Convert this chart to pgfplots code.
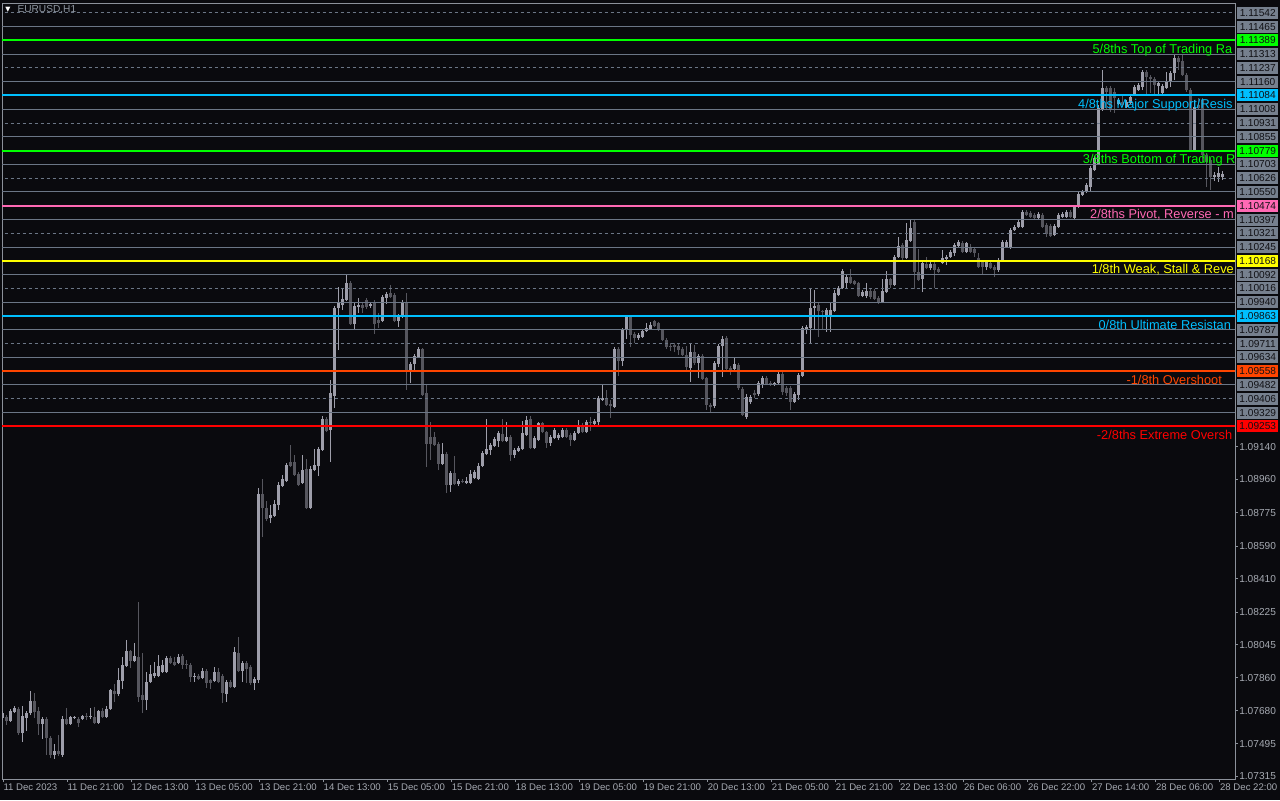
\documentclass[border=0pt]{standalone}
\usepackage{pgfplots}
\usepackage{pgfplotstable}
\pgfplotsset{compat=1.18}
\usepackage{fontspec}
\setmainfont{Liberation Sans}
\newfontfamily\dejavu{DejaVu Sans}

\definecolor{bg}{HTML}{0A0A0E}
\definecolor{frame}{HTML}{8C919A}
\definecolor{gridgray}{HTML}{6B7686}
\definecolor{bull}{HTML}{9E9EAA}
\definecolor{bear}{HTML}{56565E}
\definecolor{boxgray}{HTML}{76808E}
\definecolor{boxtext}{HTML}{101014}
\definecolor{ticktext}{HTML}{A6AAB2}
\definecolor{titlegray}{HTML}{8E96A0}
\definecolor{mlime}{HTML}{00FF00}
\definecolor{msky}{HTML}{00BFFF}
\definecolor{mpink}{HTML}{FF69B4}
\definecolor{myellow}{HTML}{FFFF00}
\definecolor{morange}{HTML}{FF4500}
\definecolor{mred}{HTML}{FF0000}

\pgfplotstableread{
k O H L C
0 1.07639 1.07677 1.07628 1.07666
1 1.07644 1.07655 1.07600 1.07622
2 1.07622 1.07688 1.07617 1.07677
3 1.07672 1.07705 1.07666 1.07694
4 1.07688 1.07699 1.07545 1.07556
5 1.07556 1.07705 1.07506 1.07650
6 1.07639 1.07677 1.07567 1.07666
7 1.07666 1.07788 1.07655 1.07732
8 1.07732 1.07777 1.07639 1.07672
9 1.07677 1.07699 1.07545 1.07606
10 1.07606 1.07644 1.07523 1.07633
11 1.07633 1.07644 1.07434 1.07528
12 1.07528 1.07539 1.07417 1.07434
13 1.07434 1.07495 1.07412 1.07456
14 1.07456 1.07545 1.07429 1.07440
15 1.07434 1.07650 1.07423 1.07633
16 1.07633 1.07694 1.07600 1.07606
17 1.07606 1.07650 1.07600 1.07644
18 1.07639 1.07650 1.07633 1.07644
19 1.07633 1.07644 1.07589 1.07611
20 1.07633 1.07655 1.07628 1.07650
21 1.07650 1.07666 1.07628 1.07644
22 1.07644 1.07694 1.07633 1.07650
23 1.07644 1.07699 1.07606 1.07611
24 1.07611 1.07683 1.07606 1.07677
25 1.07677 1.07694 1.07639 1.07644
26 1.07644 1.07705 1.07639 1.07688
27 1.07688 1.07799 1.07683 1.07794
28 1.07788 1.07827 1.07727 1.07771
29 1.07771 1.07915 1.07760 1.07849
30 1.07843 1.07976 1.07799 1.07932
31 1.07926 1.08070 1.07921 1.08009
32 1.08009 1.08015 1.07915 1.07954
33 1.07954 1.08054 1.07949 1.07982
34 1.07976 1.08281 1.07727 1.07755
35 1.07766 1.07998 1.07666 1.07738
36 1.07738 1.07893 1.07683 1.07838
37 1.07838 1.07932 1.07832 1.07882
38 1.07871 1.07949 1.07860 1.07888
39 1.07871 1.07987 1.07865 1.07926
40 1.07893 1.07960 1.07888 1.07932
41 1.07893 1.07982 1.07888 1.07971
42 1.07971 1.07982 1.07937 1.07943
43 1.07949 1.07976 1.07926 1.07932
44 1.07943 1.07993 1.07937 1.07976
45 1.07982 1.07993 1.07910 1.07932
46 1.07937 1.07960 1.07910 1.07932
47 1.07932 1.07943 1.07838 1.07865
48 1.07865 1.07888 1.07838 1.07871
49 1.07871 1.07882 1.07849 1.07854
50 1.07860 1.07915 1.07854 1.07899
51 1.07899 1.07910 1.07805 1.07832
52 1.07849 1.07854 1.07799 1.07832
53 1.07843 1.07921 1.07838 1.07893
54 1.07893 1.07915 1.07832 1.07838
55 1.07871 1.07882 1.07721 1.07777
56 1.07771 1.07849 1.07727 1.07838
57 1.07838 1.07849 1.07805 1.07810
58 1.07810 1.08032 1.07805 1.08004
59 1.07998 1.08087 1.07893 1.07899
60 1.07899 1.07954 1.07838 1.07943
61 1.07943 1.07954 1.07832 1.07910
62 1.07921 1.07932 1.07821 1.07832
63 1.07832 1.07865 1.07794 1.07854
64 1.07849 1.08911 1.07832 1.08878
65 1.08878 1.08961 1.08640 1.08801
66 1.08801 1.08839 1.08729 1.08740
67 1.08746 1.08817 1.08717 1.08762
68 1.08757 1.08845 1.08751 1.08823
69 1.08817 1.08945 1.08790 1.08928
70 1.08923 1.08983 1.08917 1.08961
71 1.08950 1.09049 1.08945 1.09038
72 1.09055 1.09149 1.09027 1.09033
73 1.09055 1.09094 1.08978 1.08983
74 1.08989 1.09000 1.08923 1.08928
75 1.08939 1.09094 1.08934 1.09011
76 1.09016 1.09072 1.08795 1.08801
77 1.08801 1.09033 1.08795 1.09016
78 1.09011 1.09127 1.09005 1.09038
79 1.09033 1.09138 1.08978 1.09127
80 1.09122 1.09310 1.09116 1.09293
81 1.09293 1.09304 1.09221 1.09226
82 1.09232 1.09509 1.09055 1.09437
83 1.09421 1.09919 1.09354 1.09908
84 1.09908 1.10023 1.09675 1.09941
85 1.09924 1.10018 1.09896 1.09957
86 1.09952 1.10090 1.09946 1.10045
87 1.10045 1.10056 1.09813 1.09819
88 1.09819 1.09941 1.09791 1.09919
89 1.09913 1.09963 1.09879 1.09924
90 1.09924 1.09935 1.09879 1.09908
91 1.09952 1.09963 1.09902 1.09913
92 1.09919 1.09941 1.09908 1.09930
93 1.09941 1.09952 1.09764 1.09819
94 1.09841 1.09879 1.09797 1.09824
95 1.09835 1.09979 1.09830 1.09968
96 1.09963 1.09996 1.09930 1.09985
97 1.09990 1.10034 1.09963 1.09968
98 1.09979 1.09990 1.09830 1.09835
99 1.09835 1.09874 1.09802 1.09863
100 1.09857 1.09952 1.09852 1.09941
101 1.09941 1.09990 1.09454 1.09564
102 1.09564 1.09609 1.09492 1.09598
103 1.09598 1.09653 1.09564 1.09642
104 1.09636 1.09691 1.09631 1.09681
105 1.09681 1.09686 1.09421 1.09426
106 1.09437 1.09481 1.09027 1.09155
107 1.09193 1.09277 1.09066 1.09155
108 1.09193 1.09221 1.09144 1.09149
109 1.09155 1.09166 1.09011 1.09044
110 1.09044 1.09160 1.09038 1.09100
111 1.09100 1.09111 1.08883 1.08928
112 1.08928 1.09005 1.08889 1.08994
113 1.08994 1.09088 1.08928 1.08934
114 1.08934 1.08961 1.08923 1.08950
115 1.08950 1.08961 1.08939 1.08945
116 1.08939 1.08972 1.08934 1.08950
117 1.08939 1.09011 1.08934 1.08989
118 1.08967 1.09011 1.08961 1.09000
119 1.08961 1.09049 1.08956 1.09033
120 1.09033 1.09116 1.09027 1.09105
121 1.09100 1.09293 1.09094 1.09127
122 1.09122 1.09160 1.09094 1.09149
123 1.09144 1.09193 1.09138 1.09182
124 1.09171 1.09226 1.09138 1.09215
125 1.09210 1.09293 1.09166 1.09171
126 1.09171 1.09277 1.09166 1.09193
127 1.09193 1.09204 1.09060 1.09094
128 1.09094 1.09133 1.09078 1.09122
129 1.09116 1.09144 1.09111 1.09133
130 1.09127 1.09282 1.09122 1.09215
131 1.09204 1.09310 1.09199 1.09288
132 1.09293 1.09310 1.09127 1.09133
133 1.09133 1.09199 1.09127 1.09188
134 1.09177 1.09277 1.09171 1.09271
135 1.09271 1.09277 1.09215 1.09221
136 1.09221 1.09226 1.09133 1.09160
137 1.09160 1.09204 1.09144 1.09193
138 1.09188 1.09243 1.09182 1.09232
139 1.09188 1.09215 1.09177 1.09204
140 1.09193 1.09243 1.09188 1.09232
141 1.09232 1.09243 1.09188 1.09193
142 1.09204 1.09215 1.09144 1.09177
143 1.09177 1.09226 1.09171 1.09215
144 1.09215 1.09288 1.09210 1.09249
145 1.09260 1.09271 1.09215 1.09221
146 1.09221 1.09288 1.09215 1.09277
147 1.09277 1.09304 1.09226 1.09271
148 1.09266 1.09293 1.09260 1.09282
149 1.09277 1.09421 1.09260 1.09410
150 1.09398 1.09481 1.09393 1.09410
151 1.09410 1.09454 1.09365 1.09371
152 1.09376 1.09398 1.09299 1.09365
153 1.09359 1.09691 1.09354 1.09681
154 1.09681 1.09691 1.09531 1.09614
155 1.09614 1.09797 1.09587 1.09786
156 1.09786 1.09868 1.09736 1.09857
157 1.09857 1.09868 1.09691 1.09758
158 1.09764 1.09775 1.09713 1.09742
159 1.09742 1.09769 1.09730 1.09758
160 1.09747 1.09791 1.09742 1.09780
161 1.09780 1.09824 1.09775 1.09797
162 1.09791 1.09830 1.09786 1.09813
163 1.09835 1.09841 1.09802 1.09808
164 1.09824 1.09830 1.09780 1.09786
165 1.09786 1.09791 1.09725 1.09730
166 1.09730 1.09742 1.09681 1.09691
167 1.09697 1.09713 1.09670 1.09691
168 1.09703 1.09713 1.09664 1.09691
169 1.09697 1.09708 1.09648 1.09675
170 1.09681 1.09691 1.09642 1.09648
171 1.09648 1.09697 1.09553 1.09581
172 1.09576 1.09708 1.09498 1.09664
173 1.09664 1.09703 1.09592 1.09603
174 1.09603 1.09653 1.09520 1.09642
175 1.09642 1.09653 1.09509 1.09514
176 1.09520 1.09526 1.09343 1.09371
177 1.09371 1.09382 1.09332 1.09359
178 1.09365 1.09614 1.09354 1.09603
179 1.09598 1.09708 1.09581 1.09697
180 1.09697 1.09753 1.09526 1.09736
181 1.09742 1.09753 1.09559 1.09570
182 1.09576 1.09587 1.09537 1.09564
183 1.09570 1.09631 1.09564 1.09598
184 1.09592 1.09603 1.09454 1.09465
185 1.09459 1.09470 1.09310 1.09315
186 1.09304 1.09432 1.09293 1.09415
187 1.09387 1.09426 1.09376 1.09415
188 1.09437 1.09454 1.09410 1.09426
189 1.09432 1.09503 1.09421 1.09492
190 1.09487 1.09531 1.09465 1.09520
191 1.09520 1.09531 1.09481 1.09487
192 1.09492 1.09503 1.09476 1.09487
193 1.09487 1.09498 1.09476 1.09492
194 1.09492 1.09553 1.09487 1.09542
195 1.09542 1.09553 1.09426 1.09443
196 1.09465 1.09476 1.09421 1.09437
197 1.09465 1.09476 1.09343 1.09387
198 1.09387 1.09443 1.09382 1.09432
199 1.09426 1.09548 1.09398 1.09537
200 1.09531 1.09808 1.09526 1.09797
201 1.09791 1.09813 1.09764 1.09802
202 1.09797 1.10018 1.09713 1.09908
203 1.09908 1.10007 1.09786 1.09919
204 1.09924 1.09935 1.09747 1.09891
205 1.09891 1.09896 1.09786 1.09885
206 1.09857 1.09908 1.09775 1.09896
207 1.09857 1.09941 1.09775 1.09896
208 1.09891 1.10007 1.09885 1.09990
209 1.09979 1.10029 1.09974 1.10018
210 1.10018 1.10123 1.10012 1.10112
211 1.10045 1.10090 1.10018 1.10079
212 1.10079 1.10123 1.10040 1.10045
213 1.10056 1.10062 1.10034 1.10040
214 1.10045 1.10051 1.09968 1.09974
215 1.09974 1.10007 1.09968 1.09996
216 1.09974 1.10045 1.09963 1.10001
217 1.10001 1.10012 1.09957 1.09968
218 1.10001 1.10012 1.09952 1.09957
219 1.09963 1.09974 1.09930 1.09935
220 1.09941 1.10067 1.09935 1.10001
221 1.09996 1.10112 1.09990 1.10067
222 1.10067 1.10073 1.10018 1.10034
223 1.10034 1.10201 1.10029 1.10190
224 1.10190 1.10300 1.10184 1.10251
225 1.10256 1.10267 1.10162 1.10184
226 1.10184 1.10378 1.10179 1.10284
227 1.10278 1.10400 1.10273 1.10350
228 1.10384 1.10400 1.10012 1.10107
229 1.10107 1.10234 1.10056 1.10062
230 1.10067 1.10168 1.09996 1.10157
231 1.10151 1.10190 1.10123 1.10129
232 1.10129 1.10162 1.10118 1.10151
233 1.10151 1.10162 1.10018 1.10118
234 1.10123 1.10134 1.10101 1.10107
235 1.10157 1.10229 1.10151 1.10184
236 1.10179 1.10201 1.10145 1.10190
237 1.10190 1.10229 1.10184 1.10218
238 1.10212 1.10267 1.10195 1.10256
239 1.10251 1.10284 1.10245 1.10273
240 1.10267 1.10278 1.10212 1.10218
241 1.10218 1.10273 1.10212 1.10267
242 1.10240 1.10262 1.10212 1.10218
243 1.10234 1.10245 1.10190 1.10212
244 1.10184 1.10212 1.10129 1.10134
245 1.10162 1.10173 1.10090 1.10134
246 1.10134 1.10173 1.10118 1.10162
247 1.10157 1.10168 1.10123 1.10129
248 1.10134 1.10145 1.10079 1.10118
249 1.10118 1.10184 1.10107 1.10173
250 1.10173 1.10284 1.10168 1.10273
251 1.10245 1.10284 1.10240 1.10273
252 1.10240 1.10350 1.10234 1.10339
253 1.10339 1.10367 1.10334 1.10356
254 1.10356 1.10395 1.10350 1.10384
255 1.10356 1.10450 1.10350 1.10439
256 1.10439 1.10450 1.10417 1.10423
257 1.10434 1.10445 1.10406 1.10412
258 1.10423 1.10434 1.10400 1.10406
259 1.10406 1.10439 1.10400 1.10428
260 1.10423 1.10434 1.10350 1.10356
261 1.10367 1.10378 1.10300 1.10317
262 1.10361 1.10373 1.10300 1.10306
263 1.10311 1.10373 1.10306 1.10361
264 1.10356 1.10434 1.10350 1.10423
265 1.10412 1.10439 1.10406 1.10428
266 1.10412 1.10450 1.10406 1.10439
267 1.10439 1.10450 1.10406 1.10412
268 1.10406 1.10478 1.10400 1.10467
269 1.10467 1.10550 1.10461 1.10539
270 1.10533 1.10561 1.10528 1.10550
271 1.10550 1.10599 1.10544 1.10588
272 1.10577 1.10693 1.10550 1.10682
273 1.10671 1.10749 1.10666 1.10738
274 1.10704 1.11031 1.10699 1.11014
275 1.11003 1.11225 1.10998 1.11125
276 1.11125 1.11136 1.11003 1.11103
277 1.11125 1.11136 1.10992 1.11003
278 1.11103 1.11125 1.10987 1.11070
279 1.11037 1.11070 1.11031 1.11059
280 1.11048 1.11081 1.11020 1.11031
281 1.11020 1.11059 1.11014 1.11048
282 1.11042 1.11086 1.11037 1.11075
283 1.11086 1.11142 1.11081 1.11131
284 1.11114 1.11153 1.11108 1.11142
285 1.11131 1.11225 1.11114 1.11214
286 1.11214 1.11225 1.11092 1.11186
287 1.11186 1.11197 1.11097 1.11175
288 1.11175 1.11186 1.11092 1.11142
289 1.11136 1.11164 1.11092 1.11153
290 1.11097 1.11147 1.11092 1.11136
291 1.11125 1.11214 1.11120 1.11158
292 1.11158 1.11220 1.11131 1.11208
293 1.11208 1.11308 1.11169 1.11291
294 1.11291 1.11302 1.11225 1.11269
295 1.11274 1.11308 1.11192 1.11197
296 1.11197 1.11208 1.11103 1.11114
297 1.11114 1.11125 1.10771 1.10782
298 1.10782 1.11059 1.10776 1.11020
299 1.11031 1.11070 1.11003 1.11014
300 1.11059 1.11070 1.10716 1.10754
301 1.10754 1.10765 1.10577 1.10716
302 1.10727 1.10738 1.10561 1.10632
303 1.10632 1.10660 1.10610 1.10643
304 1.10632 1.10688 1.10605 1.10654
305 1.10632 1.10666 1.10616 1.10649
}\candles

\newcommand\lvlbox[3]{%
  \node[anchor=west, xshift=1.5pt, fill=#2, text=#3, inner sep=0pt,
        minimum width=30.75pt, minimum height=9pt,
        font=\fontsize{7.6}{9}\selectfont] at (axis cs:308.075,#1) {#1};}
\newcommand\lvltext[4]{%
  \node[anchor=base west, yshift=-9.75pt, text=#3, inner sep=0pt,
        font=\fontsize{9.6}{11}\selectfont] at (axis cs:#1,#2) {#4};}

\begin{document}
\begin{tikzpicture}
\fill[bg] (0,0) rectangle (960pt,600pt);
\path[use as bounding box] (0,0) rectangle (960pt,600pt);
\begin{axis}[
  at={(1.5pt,15.75pt)}, anchor=south west,
  scale only axis, width=924.75pt, height=581.25pt,
  xmin=-0.175, xmax=308.075, ymin=1.07301, ymax=1.11590,
  clip mode=individual,
  axis background/.style={fill=bg},
  axis line style={frame, line width=0.75pt},
  tick style={frame, line width=0.75pt},
  xtick pos=bottom, ytick pos=right, yticklabel pos=right,
  tick align=outside, major tick length=2.25pt,
  xtick={0.15,16.16,32.17,48.17,64.18,80.19,96.2,112.2,128.21,144.22,160.23,176.23,192.24,208.25,224.26,240.26,256.27,272.28,288.29,304.29},
  xticklabels={11 Dec 2023,11 Dec 21:00,12 Dec 13:00,13 Dec 05:00,13 Dec 21:00,14 Dec 13:00,15 Dec 05:00,15 Dec 21:00,18 Dec 13:00,19 Dec 05:00,19 Dec 21:00,20 Dec 13:00,21 Dec 05:00,21 Dec 21:00,22 Dec 13:00,26 Dec 06:00,26 Dec 22:00,27 Dec 14:00,28 Dec 06:00,28 Dec 22:00},
  ytick={1.07315,1.07495,1.0768,1.0786,1.08045,1.08225,1.0841,1.0859,1.08775,1.0896,1.0914},
  yticklabels={1.07315,1.07495,1.07680,1.07860,1.08045,1.08225,1.08410,1.08590,1.08775,1.08960,1.09140},
  xticklabel style={anchor=north west, text=ticktext, inner sep=0pt, yshift=-1pt, font=\fontsize{7.2}{8.5}\selectfont},
  yticklabel style={anchor=west, text=ticktext, inner sep=0pt, xshift=0.75pt, font=\fontsize{7.6}{9}\selectfont},
  scaled y ticks=false,
  colormap={cndl}{color=(bear) color=(bull)},
  point meta min=0, point meta max=1,
]
% candles: wicks and bodies
\addplot[quiver={u=0, v=\thisrow{H}-\thisrow{L}, colored=mapped color}, -, line width=0.75pt,
  point meta={\thisrow{C}>\thisrow{O}}] table[x=k, y=L] {\candles};
\addplot[quiver={u=0, v=\thisrow{C}-\thisrow{O}, colored=mapped color}, -, line width=2.25pt,
  point meta={\thisrow{C}>\thisrow{O}}] table[x=k, y=O] {\candles};
% gray levels
\pgfplotsinvokeforeach{1.09329,1.09482,1.09634,1.09787,1.09940,1.10092,1.10245,1.10397,1.10550,1.10703,1.10855,1.11008,1.11160,1.11313,1.11465}{
  \addplot[gridgray, line width=0.75pt] coordinates {(-1,#1) (310,#1)};}
\pgfplotsinvokeforeach{1.09406,1.09711,1.10016,1.10321,1.10626,1.10931,1.11237,1.11542}{
  \addplot[gridgray, line width=0.75pt, dash pattern=on 2.25pt off 2.25pt] coordinates {(-1,#1) (310,#1)};}
% Murrey levels
\addplot[mlime, line width=1.5pt] coordinates {(-1,1.11389) (310,1.11389)};
\addplot[msky, line width=1.5pt] coordinates {(-1,1.11084) (310,1.11084)};
\addplot[mlime, line width=1.5pt] coordinates {(-1,1.10779) (310,1.10779)};
\addplot[mpink, line width=1.5pt] coordinates {(-1,1.10474) (310,1.10474)};
\addplot[myellow, line width=1.5pt] coordinates {(-1,1.10168) (310,1.10168)};
\addplot[msky, line width=1.5pt] coordinates {(-1,1.09863) (310,1.09863)};
\addplot[morange, line width=1.5pt] coordinates {(-1,1.09558) (310,1.09558)};
\addplot[mred, line width=1.5pt] coordinates {(-1,1.09253) (310,1.09253)};
% level texts (cut at the right edge of the chart, as in the terminal)
\begin{scope}
\clip (rel axis cs:0,0) rectangle (rel axis cs:1,1);
\lvltext{272.4}{1.11389}{mlime}{5/8ths Top of Trading Ra}
\lvltext{268.8}{1.11084}{msky}{4/8ths Major Support/Resis}
\lvltext{270.0}{1.10779}{mlime}{3/8ths Bottom of Trading R}
\lvltext{271.8}{1.10474}{mpink}{2/8ths Pivot, Reverse - m}
\lvltext{272.2}{1.10168}{myellow}{1/8th Weak, Stall \& Reve}
\lvltext{273.9}{1.09863}{msky}{0/8th Ultimate Resistan}
\lvltext{280.9}{1.09558}{morange}{-1/8th Overshoot}
\lvltext{273.5}{1.09253}{mred}{-2/8ths Extreme Oversh}
\end{scope}
% price boxes on the right
\lvlbox{1.09253}{mred}{boxtext}
\lvlbox{1.09329}{boxgray}{boxtext}
\lvlbox{1.09406}{boxgray}{boxtext}
\lvlbox{1.09482}{boxgray}{boxtext}
\lvlbox{1.09558}{morange}{boxtext}
\lvlbox{1.09634}{boxgray}{boxtext}
\lvlbox{1.09711}{boxgray}{boxtext}
\lvlbox{1.09787}{boxgray}{boxtext}
\lvlbox{1.09863}{msky}{boxtext}
\lvlbox{1.09940}{boxgray}{boxtext}
\lvlbox{1.10016}{boxgray}{boxtext}
\lvlbox{1.10092}{boxgray}{boxtext}
\lvlbox{1.10168}{myellow}{boxtext}
\lvlbox{1.10245}{boxgray}{boxtext}
\lvlbox{1.10321}{boxgray}{boxtext}
\lvlbox{1.10397}{boxgray}{boxtext}
\lvlbox{1.10474}{mpink}{boxtext}
\lvlbox{1.10550}{boxgray}{boxtext}
\lvlbox{1.10626}{boxgray}{boxtext}
\lvlbox{1.10703}{boxgray}{boxtext}
\lvlbox{1.10779}{mlime}{boxtext}
\lvlbox{1.10855}{boxgray}{boxtext}
\lvlbox{1.10931}{boxgray}{boxtext}
\lvlbox{1.11008}{boxgray}{boxtext}
\lvlbox{1.11084}{msky}{boxtext}
\lvlbox{1.11160}{boxgray}{boxtext}
\lvlbox{1.11237}{boxgray}{boxtext}
\lvlbox{1.11313}{boxgray}{boxtext}
\lvlbox{1.11389}{mlime}{boxtext}
\lvlbox{1.11465}{boxgray}{boxtext}
\lvlbox{1.11542}{boxgray}{boxtext}
\end{axis}
\node[anchor=center, text=white, inner sep=0pt, font=\dejavu\fontsize{5}{6}\selectfont] at (6pt,592.5pt) {▼};
\node[anchor=west, text=titlegray, inner sep=0pt, font=\fontsize{7.6}{9}\selectfont] at (13pt,592.5pt) {EURUSD,H1};
\end{tikzpicture}
\end{document}
